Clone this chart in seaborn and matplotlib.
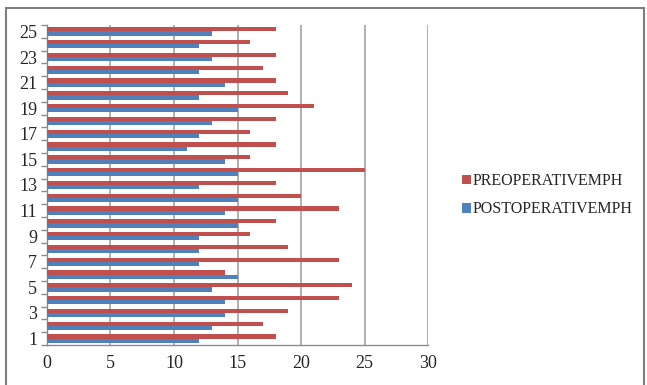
import matplotlib
matplotlib.use("Agg")
import matplotlib.pyplot as plt
from matplotlib.patches import Rectangle, Patch
import seaborn as sns
import pandas as pd
import numpy as np

# Patient numbers and speeds (mph) before and after the operation
patients = list(range(1, 26))
preoperative = [18, 17, 19, 23, 24, 14, 23, 19, 16, 18, 23, 20, 18, 25, 16,
                18, 16, 18, 21, 19, 18, 17, 18, 16, 18]
postoperative = [12, 13, 14, 14, 13, 15, 12, 12, 12, 15, 14, 15, 12, 15, 14,
                 11, 12, 13, 15, 12, 14, 12, 13, 12, 13]
series_names = ["PREOPERATIVEMPH", "POSTOPERATIVEMPH"]
x_ticks = [0, 5, 10, 15, 20, 25, 30]

df = pd.DataFrame({
    "patient": [str(p) for p in patients] * 2,
    "mph": preoperative + postoperative,
    "series": [series_names[0]] * len(patients) + [series_names[1]] * len(patients),
})

sns.set_theme(style="white")
plt.rcParams["font.family"] = ["Liberation Serif", "DejaVu Serif"]

colors = {series_names[0]: "#C0504D", series_names[1]: "#4F81BD"}
order = [str(p) for p in reversed(patients)]

fig = plt.figure(figsize=(6.47, 3.85), dpi=100)
ax = fig.add_axes([0.0726, 0.104, 0.589, 0.831])

sns.barplot(data=df, y="patient", x="mph", hue="series", order=order,
            hue_order=series_names, palette=colors, orient="h",
            width=0.66, saturation=1, linewidth=0, ax=ax, legend=False)
for bar in ax.patches:
    bar.set_zorder(3)

ax.set_xlim(0, 30)
ax.set_ylim(len(order) - 0.5, -0.5)

# vertical gridlines behind the bars
ax.grid(False)
ax.vlines(x_ticks[1:], -0.5, len(order) - 0.5, colors="#9a9a9a",
          linewidth=1.1, zorder=1)

ax.set_xticks(x_ticks)
ax.set_xticklabels([str(t) for t in x_ticks], fontsize=13)
ax.set_yticks(range(len(order)))
ax.set_yticklabels([lab if int(lab) % 2 == 1 else "" for lab in order], fontsize=13)
ax.set_yticks(np.arange(-0.5, len(order), 1.0), minor=True)
ax.tick_params(axis="y", which="major", length=0, pad=7)
ax.tick_params(axis="y", which="minor", length=4, color="#8c8c8c", direction="out", left=True)
ax.tick_params(axis="x", which="major", length=0, pad=7)
ax.set_xlabel("")
ax.set_ylabel("")

for side in ["top", "right"]:
    ax.spines[side].set_visible(False)
for side in ["left", "bottom"]:
    ax.spines[side].set_color("#8c8c8c")
    ax.spines[side].set_linewidth(1)

handles = [Patch(facecolor=colors[n], edgecolor="none") for n in series_names]
fig.legend(handles, series_names, loc="center left", bbox_to_anchor=(0.692, 0.493),
           frameon=False, fontsize=11.5, handlelength=0.55, handleheight=0.55,
           handletextpad=0.1, labelspacing=0.78)

fig.patches.append(Rectangle((0.009, -0.02), 0.987, 1.0, transform=fig.transFigure,
                             fill=False, edgecolor="#7f7f7f", linewidth=1.5))

fig.savefig("out.png", dpi=100)
